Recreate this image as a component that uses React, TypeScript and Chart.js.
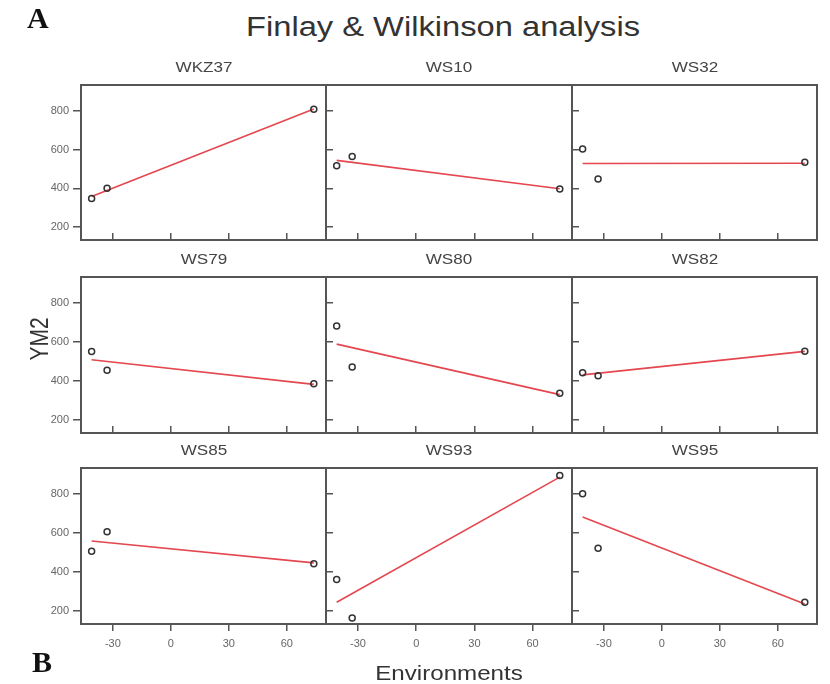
import React, { useEffect, useRef } from 'react';
import { Chart, registerables } from 'chart.js';

Chart.register(...registerables);

// ---- data ----
const GENOTYPES = ['WKZ37', 'WS10', 'WS32', 'WS79', 'WS80', 'WS82', 'WS85', 'WS93', 'WS95'];
const ENV_INDEX = [-41, -33, 74];
const YM2_WKZ37 = [347, 400, 809];
const YM2_WS10 = [517, 564, 396];
const YM2_WS32 = [603, 448, 535];
const YM2_WS79 = [551, 455, 386];
const YM2_WS80 = [682, 472, 337];
const YM2_WS82 = [443, 427, 553];
const YM2_WS85 = [507, 607, 443];
const YM2_WS93 = [362, 164, 896];
const YM2_WS95 = [802, 522, 245];
const YM2_VALUES = [YM2_WKZ37, YM2_WS10, YM2_WS32, YM2_WS79, YM2_WS80, YM2_WS82, YM2_WS85, YM2_WS93, YM2_WS95];
const X_TICKS = [-30, 0, 30, 60];
const Y_TICKS = [200, 400, 600, 800];

// ---- layout ----
const COL_EDGES = [81, 326, 572, 817];
const ROW_TOPS = [85, 277, 468];
const ROW_BOTTOMS = [240, 433, 624];
const X_MIN = -46.5;
const X_MAX = 80.3;
const Y_MIN = 133;
const Y_MAX = 934;
const PAD = { left: 50, top: 20, right: 20, bottom: 40 };
const RED = '#e4474f';
const FRAME = '#555555';
const TICK_FONT = { family: '"Liberation Sans", Arial, sans-serif', size: 11 };

function fitLine(xs: number[], ys: number[]) {
  const n = xs.length;
  const mx = xs.reduce((a, b) => a + b, 0) / n;
  const my = ys.reduce((a, b) => a + b, 0) / n;
  let sxy = 0;
  let sxx = 0;
  for (let i = 0; i < n; i++) {
    sxy += (xs[i] - mx) * (ys[i] - my);
    sxx += (xs[i] - mx) * (xs[i] - mx);
  }
  const b = sxy / sxx;
  const a = my - b * mx;
  const lo = Math.min(...xs);
  const hi = Math.max(...xs);
  return [
    { x: lo, y: a + b * lo },
    { x: hi, y: a + b * hi },
  ];
}

const framePlugin = {
  id: 'frame',
  afterDraw(chart: any) {
    const { ctx, chartArea } = chart;
    ctx.save();
    ctx.strokeStyle = FRAME;
    ctx.lineWidth = 2;
    ctx.strokeRect(chartArea.left, chartArea.top, chartArea.right - chartArea.left, chartArea.bottom - chartArea.top);
    ctx.restore();
  },
};

function Panel({ index }: { index: number }) {
  const ref = useRef<HTMLCanvasElement>(null);
  const row = Math.floor(index / 3);
  const col = index % 3;
  const L = COL_EDGES[col];
  const R = COL_EDGES[col + 1];
  const T = ROW_TOPS[row];
  const B = ROW_BOTTOMS[row];
  const W = R - L + PAD.left + PAD.right;
  const H = B - T + PAD.top + PAD.bottom;
  const isBottom = row === 2;
  const isLeft = col === 0;

  useEffect(() => {
    const ys = YM2_VALUES[index];
    const points = ENV_INDEX.map((x, i) => ({ x, y: ys[i] }));
    const chart = new Chart(ref.current as HTMLCanvasElement, {
      type: 'scatter',
      data: {
        datasets: [
          {
            type: 'line',
            data: fitLine(ENV_INDEX, ys),
            borderColor: RED,
            borderWidth: 1.6,
            pointRadius: 0,
            fill: false,
            order: 2,
          } as any,
          {
            type: 'scatter',
            data: points,
            pointStyle: 'circle',
            pointRadius: 3,
            borderColor: '#333333',
            borderWidth: 1.5,
            backgroundColor: 'rgba(0,0,0,0)',
            order: 1,
          } as any,
        ],
      },
      options: {
        responsive: false,
        animation: false,
        events: [],
        layout: { padding: { left: 0, top: PAD.top, right: PAD.right, bottom: 0 } },
        plugins: { legend: { display: false }, tooltip: { enabled: false }, title: { display: false } },
        scales: {
          x: {
            type: 'linear',
            position: 'bottom',
            min: X_MIN,
            max: X_MAX,
            afterBuildTicks: (s: any) => {
              s.ticks = X_TICKS.map((v) => ({ value: v }));
            },
            afterFit: (s: any) => {
              s.height = PAD.bottom;
            },
            grid: { drawOnChartArea: false, drawTicks: true, tickLength: isBottom ? 7 : -7, color: FRAME, lineWidth: 1.5 },
            border: { display: false },
            ticks: { display: isBottom, font: TICK_FONT, color: '#666', padding: 6, maxRotation: 0, autoSkip: false },
          },
          y: {
            type: 'linear',
            position: 'left',
            min: Y_MIN,
            max: Y_MAX,
            afterBuildTicks: (s: any) => {
              s.ticks = Y_TICKS.map((v) => ({ value: v }));
            },
            afterFit: (s: any) => {
              s.width = PAD.left;
            },
            grid: { drawOnChartArea: false, drawTicks: true, tickLength: isLeft ? 8 : -7, color: FRAME, lineWidth: 1.5 },
            border: { display: false },
            ticks: { display: isLeft, font: TICK_FONT, color: '#666', padding: 4, autoSkip: false },
          },
        },
      } as any,
      plugins: [framePlugin],
    });
    return () => chart.destroy();
  }, [index]);

  return (
    <canvas
      ref={ref}
      width={W}
      height={H}
      style={{ position: 'absolute', left: L - PAD.left, top: T - PAD.top, width: W, height: H }}
    />
  );
}

const sans = '"Liberation Sans", Arial, sans-serif';
const serif = '"Liberation Serif", "Times New Roman", serif';

function Label({ text, cx, top, size, scale, color, weight, family }: any) {
  return (
    <div
      style={{
        position: 'absolute',
        left: cx,
        top,
        fontFamily: family || sans,
        fontSize: size,
        lineHeight: 1,
        whiteSpace: 'nowrap',
        color,
        fontWeight: weight || 'normal',
        transform: `translateX(-50%) scaleX(${scale})`,
        transformOrigin: 'center',
      }}
    >
      {text}
    </div>
  );
}

export default function App() {
  return (
    <div style={{ position: 'absolute', left: 0, top: 0, width: 830, height: 684, background: '#fff', overflow: 'hidden' }}>
      {GENOTYPES.map((g, i) => (
        <Panel key={g} index={i} />
      ))}
      {GENOTYPES.map((g, i) => {
        const row = Math.floor(i / 3);
        const col = i % 3;
        const cx = (COL_EDGES[col] + COL_EDGES[col + 1]) / 2;
        return <Label key={'t' + g} text={g} cx={cx} top={ROW_TOPS[row] - 25.4} size={14} scale={1.22} color="#444" />;
      })}
      <Label text="Finlay & Wilkinson analysis" cx={442.5} top={14} size={27} scale={1.21} color="#333" />
      <Label text="Environments" cx={448.5} top={662} size={21} scale={1.15} color="#333" />
      <div
        style={{
          position: 'absolute',
          left: 37.5,
          top: 338.5,
          fontFamily: sans,
          fontSize: 21,
          lineHeight: 1,
          whiteSpace: 'nowrap',
          color: '#333',
          transform: 'translate(-50%, -50%) scaleX(1.27) rotate(-90deg)',
          transformOrigin: 'center',
        }}
      >
        YM2
      </div>
      <div style={{ position: 'absolute', left: 27, top: 3, fontFamily: serif, fontWeight: 'bold', fontSize: 30, lineHeight: 1, color: '#111' }}>A</div>
      <div style={{ position: 'absolute', left: 32, top: 647, fontFamily: serif, fontWeight: 'bold', fontSize: 30, lineHeight: 1, color: '#111' }}>B</div>
    </div>
  );
}
